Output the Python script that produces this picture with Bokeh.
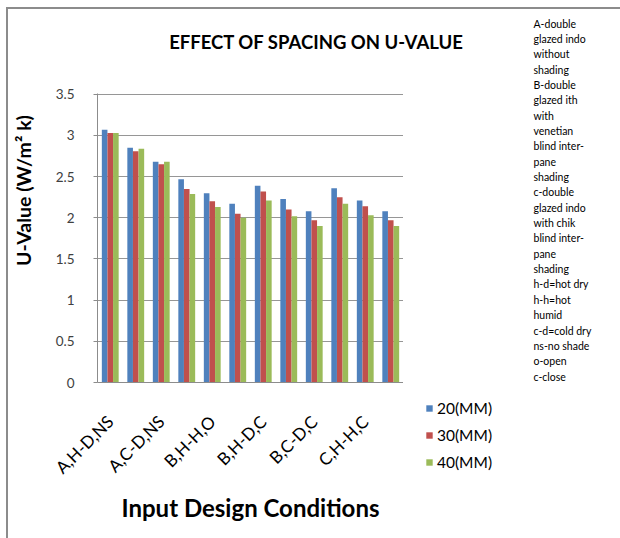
import math
from bokeh.plotting import figure
from bokeh.layouts import row, column
from bokeh.models import (ColumnDataSource, Range1d, FixedTicker, Label, Legend,
                          LegendItem)
from bokeh.transform import dodge
from bokeh.embed import file_html
from bokeh.resources import INLINE

categories = ["A,H-D,NS", "A,H-H,NS", "A,C-D,NS",
              "B,H-D,O", "B,H-H,O", "B,C-D,O",
              "B,H-D,C", "B,H-H,C", "B,C-D,C",
              "C,H-D,C", "C,H-H,C", "C,C-D,C"]
u20 = [3.07, 2.85, 2.68, 2.47, 2.30, 2.17, 2.39, 2.23, 2.08, 2.36, 2.21, 2.08]
u30 = [3.03, 2.81, 2.65, 2.35, 2.20, 2.05, 2.32, 2.10, 1.97, 2.25, 2.14, 1.97]
u40 = [3.03, 2.84, 2.68, 2.29, 2.13, 2.00, 2.21, 2.02, 1.90, 2.17, 2.03, 1.90]
series_names = ["20(MM)", "30(MM)", "40(MM)"]
y_ticks = [0, 0.5, 1, 1.5, 2, 2.5, 3, 3.5]
notes = ["A-double", "glazed indo", "without", "shading", "B-double",
         "glazed ith", "with", "venetian", "blind  inter-", "pane", "shading",
         "c-double", "glazed indo", "with chik", "blind  inter-", "pane",
         "shading", "h-d=hot  dry", "h-h=hot", "humid", "c-d=cold  dry",
         "ns-no shade", "o-open", "c-close"]

colors = ["#4F81BD", "#C0504D", "#9BBB59"]
FONT = "Lato"
EDGE = "#8c8c8c"
g = f"linear-gradient({EDGE}, {EDGE})"


def no_align(f):
    try:
        f.frame_align = False
    except Exception:
        pass


def blank(w, h, styles=None, xr=(0, 1), yr=(0, 1)):
    f = figure(width=w, height=h, output_backend="svg", toolbar_location=None,
               x_range=Range1d(*xr), y_range=Range1d(*yr),
               x_axis_type=None, y_axis_type=None,
               min_border_left=0, min_border_right=0, min_border_top=0,
               min_border_bottom=0)
    f.grid.visible = False
    f.outline_line_color = None
    f.background_fill_color = None
    f.border_fill_color = None
    f.styles = styles or {"background": "white"}
    no_align(f)
    return f


# ---- title strip --------------------------------------------------------
t = blank(520, 60, {"background": f"{g} 6px 7px / 2px 100% no-repeat, "
                                  f"{g} 6px 7px / 100% 2px no-repeat, white"})
t.add_layout(Label(x=316, y=19, x_units="screen", y_units="screen",
                   text="EFFECT OF SPACING ON U-VALUE", text_font=FONT,
                   text_font_style="bold", text_font_size="18.5px",
                   text_align="center", text_baseline="middle", text_color="#000000"))

# ---- main chart ---------------------------------------------------------
src = ColumnDataSource(dict(x=list(range(1, len(categories) + 1)),
                            s20=u20, s30=u30, s40=u40))

p = figure(width=403, height=478, output_backend="svg", toolbar_location=None,
           x_range=Range1d(0.5, len(categories) + 0.5), y_range=Range1d(0, 3.51),
           min_border_left=97, min_border_right=0, min_border_top=33,
           min_border_bottom=156)
p.styles = {"background": f"{g} 6px 0px / 2px 100% no-repeat, white"}
p.outline_line_color = None
p.background_fill_color = "white"
p.border_fill_color = None

bw = 0.22
fields = ["s20", "s30", "s40"]
bars = []
for k, (fld, c) in enumerate(zip(fields, colors)):
    bars.append(p.vbar(x=dodge("x", (k - 1) * bw, range=p.x_range), top=fld, width=bw,
                       bottom=0, source=src, fill_color=c, line_color=None))

p.xaxis.ticker = FixedTicker(ticks=list(range(1, len(categories) + 1, 2)))
p.xaxis.major_label_overrides = {i + 1: categories[i] for i in range(0, len(categories), 2)}
p.xaxis.major_label_orientation = math.pi / 4
p.xaxis.major_tick_line_color = None
p.xaxis.minor_tick_line_color = None
p.xaxis.major_label_text_font = FONT
p.xaxis.major_label_text_font_size = "17px"
p.xaxis.major_label_text_color = "#000000"
p.xaxis.major_label_standoff = 30
p.xaxis.axis_line_color = EDGE
p.xaxis.axis_label = "Input Design Conditions"
p.xaxis.axis_label_text_font = FONT
p.xaxis.axis_label_text_font_style = "bold"
p.xaxis.axis_label_text_font_size = "24px"
p.xaxis.axis_label_text_color = "#000000"
p.xaxis.axis_label_standoff = 5

p.yaxis.ticker = FixedTicker(ticks=y_ticks)
p.yaxis.major_label_overrides = {t_: (str(t_) if t_ != int(t_) else str(int(t_))) for t_ in y_ticks}
p.yaxis.minor_tick_line_color = None
p.yaxis.major_tick_in = 0
p.yaxis.major_tick_out = 4
p.yaxis.major_tick_line_color = EDGE
p.yaxis.axis_line_color = EDGE
p.yaxis.major_label_text_font = FONT
p.yaxis.major_label_text_font_size = "13.5px"
p.yaxis.major_label_text_color = "#404040"
p.yaxis.major_label_standoff = 19

p.xgrid.grid_line_color = None
p.ygrid.grid_line_color = "#969696"
p.ygrid.grid_line_width = 1

p.add_layout(Label(x=-6, y=192, x_units="screen", y_units="screen",
                   text="U-Value (W/m\u00b2 k)", text_font=FONT, angle=math.pi / 2,
                   text_font_style="bold", text_font_size="19.5px",
                   text_align="center", text_baseline="middle", text_color="#000000"),
             "left")

# ---- legend panel (keys reuse the chart data, placed outside this panel's ranges)
lg = blank(117, 478, xr=(100, 101), yr=(100, 101))
keys = [lg.vbar(x="x", top=fld, width=bw, bottom=0, source=src, fill_color=c, line_color=None)
        for fld, c in zip(fields, colors)]
legend = Legend(items=[LegendItem(label=n, renderers=[r], index=0)
                       for n, r in zip(series_names, keys)],
                location=(22, 67), orientation="vertical")
legend.glyph_width = 8
legend.glyph_height = 8
legend.label_height = 18
legend.spacing = 9
legend.padding = 0
legend.margin = 0
legend.label_standoff = 4
legend.border_line_color = None
legend.background_fill_alpha = 0
legend.label_text_font = FONT
legend.label_text_font_size = "15.5px"
legend.label_text_color = "#000000"
lg.add_layout(legend)

# ---- notes column ---------------------------------------------------------
nf = blank(100, 538, {"background": f"{g} 0px 7px / 100% 2px no-repeat, white"})
for i, line in enumerate(notes):
    nf.add_layout(Label(x=13, y=538 - (23 + i * 15.35), x_units="screen", y_units="screen",
                        text=line, text_font=FONT, text_font_size="10.5px",
                        text_align="left", text_baseline="middle", text_color="#000000"))

layout = row(column(t, row(p, column(lg), spacing=0), spacing=0), nf, spacing=0)
open("out.html", "w").write(file_html(layout, INLINE))
